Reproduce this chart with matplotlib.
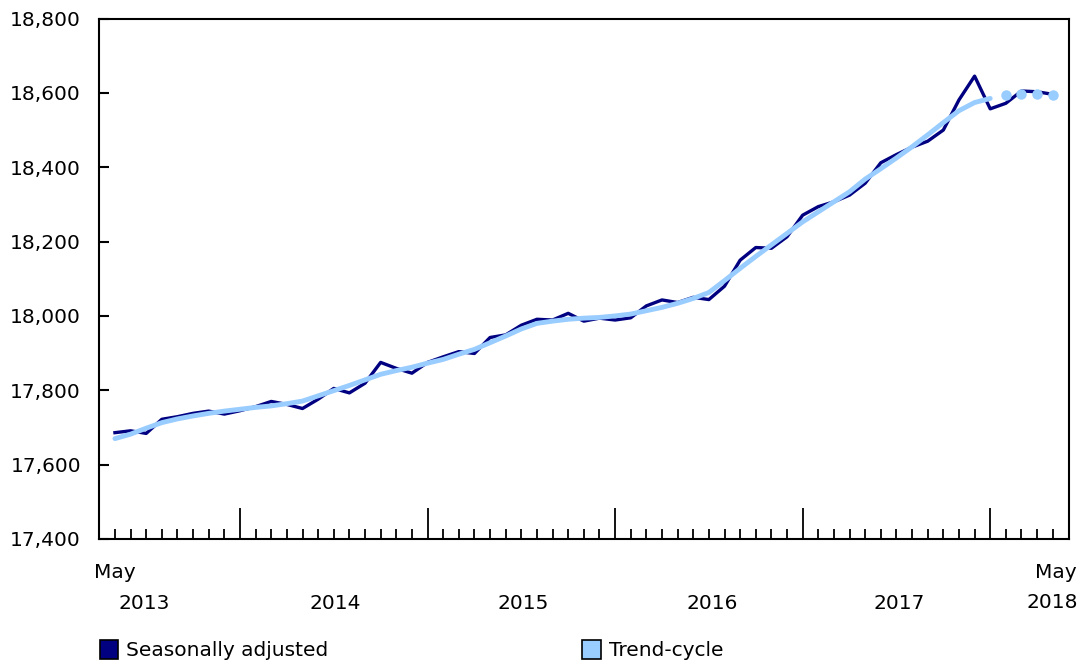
import matplotlib.pyplot as plt
import numpy as np
from matplotlib.patches import Patch

# monthly, May 2013 to May 2018
seasonally_adjusted = [
    17686, 17691, 17684, 17722, 17729, 17738, 17744, 17736,
    17745, 17756, 17770, 17762, 17751, 17776, 17805, 17793, 17819, 17875, 17859, 17846,
    17875, 17890, 17904, 17899, 17942, 17949, 17975, 17991, 17989, 18007, 17986, 17994,
    17989, 17995, 18027, 18043, 18036, 18050, 18044, 18080, 18150, 18184, 18182, 18213,
    18271, 18294, 18307, 18325, 18357, 18412, 18434, 18454, 18470, 18500, 18581, 18645,
    18557, 18572, 18605, 18603, 18596,
]
trend_cycle = [
    17670, 17682, 17698, 17713, 17723, 17731, 17738, 17744,
    17749, 17754, 17758, 17764, 17771, 17785, 17799, 17813, 17828, 17843, 17853, 17862,
    17873, 17883, 17897, 17910, 17928, 17946, 17965, 17980, 17986, 17991, 17994, 17996,
    18000, 18005, 18014, 18023, 18034, 18047, 18063, 18095, 18128, 18160, 18191, 18222,
    18253, 18280, 18307, 18334, 18368, 18396, 18425, 18455, 18487, 18520, 18552, 18574,
    18585,
]
# last four trend-cycle points are shown as dots only
trend_tail = [18594, 18596, 18597, 18595]

year_labels = ['2013', '2014', '2015', '2016', '2017']
year_pos = [1.9, 14.1, 26.1, 38.2, 50.2]
january_idx = [8, 20, 32, 44, 56]

NAVY = '#000080'
LIGHT = '#99ccff'

plt.rcParams['font.family'] = 'DejaVu Sans'
plt.rcParams['font.size'] = 14.5

fig = plt.figure(figsize=(10.8, 6.6), dpi=100)
ax = fig.add_axes([99 / 1080, 1 - 539 / 660, 970 / 1080, 520.5 / 660])

x = np.arange(len(seasonally_adjusted))
n_tr = len(trend_cycle)
ax.plot(x, seasonally_adjusted, color=NAVY, lw=2.4, zorder=3)
ax.plot(x[:n_tr], trend_cycle, color=LIGHT, lw=3.5, solid_capstyle='round', zorder=4)
ax.plot(x[n_tr:], trend_tail, linestyle='none', marker='o', ms=6.5,
        color=LIGHT, mec=LIGHT, zorder=4)

ax.set_xlim(-1.02, 61.04)
ax.set_ylim(17400, 18800)
ax.set_yticks(np.arange(17400, 18801, 200))
ax.set_yticklabels([f'{v:,}' for v in range(17400, 18801, 200)])
ax.tick_params(axis='y', direction='in', length=7, width=1.5, pad=13)

minor = [i for i in x if i not in january_idx]
ax.set_xticks(january_idx)
ax.set_xticks(minor, minor=True)
ax.set_xticklabels([])
ax.tick_params(axis='x', which='major', direction='in', length=22, width=1.3)
ax.tick_params(axis='x', which='minor', direction='in', length=7, width=1.3)

for s in ax.spines.values():
    s.set_linewidth(1.5)

tr = ax.get_xaxis_transform()
ax.text(0, -0.064, 'May', transform=tr, ha='center', va='center')
for lab, p in zip(year_labels, year_pos):
    ax.text(p, -0.124, lab, transform=tr, ha='center', va='center')
# last period labels pushed in against the right edge
fig.text(1077 / 1080, 1 - 572 / 660, 'May', ha='right', va='center')
fig.text(1078 / 1080, 1 - 603 / 660, '2018', ha='right', va='center')

handles = [Patch(facecolor=NAVY, edgecolor='black', lw=1.2),
           Patch(facecolor=LIGHT, edgecolor='black', lw=1.2)]
fig.legend(handles, ['Seasonally adjusted', 'Trend-cycle'], ncol=2,
           loc='lower left', bbox_to_anchor=(0.076, -0.028), frameon=False,
           handlelength=0.9, handleheight=1.1, handletextpad=0.4,
           columnspacing=12.6)

fig.savefig('out.png', dpi=100)
